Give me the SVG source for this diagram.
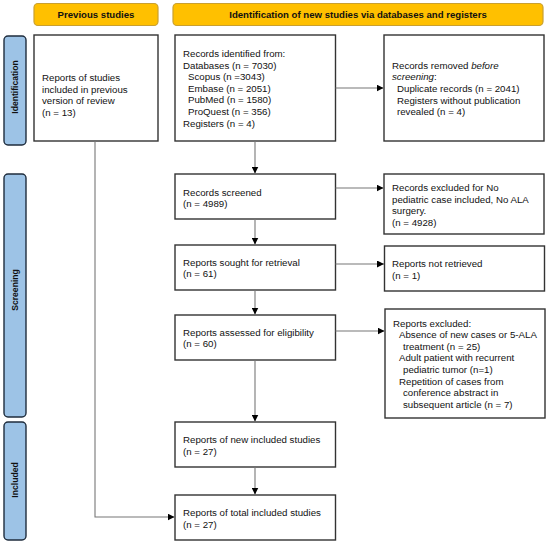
<svg xmlns="http://www.w3.org/2000/svg" width="550" height="543" viewBox="0 0 550 543">
<defs>
<marker id="ah" viewBox="0 0 10 10" refX="10" refY="5" markerWidth="7" markerHeight="7" markerUnits="userSpaceOnUse" orient="auto">
<path d="M0,0 L10,5 L0,10 z" fill="#000"/>
</marker>
<style>
.box{fill:#fff;stroke:#333;stroke-width:1.4}
.hdr{fill:#FFC000;stroke:#C9A030;stroke-width:1.2}
.side{fill:#9DC3E6;stroke:#1F2D3D;stroke-width:1.4}
.t{font-family:"Liberation Sans",Arial,sans-serif;font-size:9.7px;fill:#111}
.h{font-family:"Liberation Sans",Arial,sans-serif;font-size:9.6px;font-weight:bold;fill:#111;text-anchor:middle}
.s{font-family:"Liberation Sans",Arial,sans-serif;font-size:8.6px;font-weight:bold;fill:#111;text-anchor:middle}
.c{fill:none;stroke:#777;stroke-width:1.1}
</style>
</defs>
<g id="header-previous"><rect class="hdr" x="34" y="3.5" width="124" height="22" rx="4"/><text class="h" x="96" y="18">Previous studies</text></g>
<g id="header-new"><rect class="hdr" x="173" y="3.5" width="370" height="22" rx="4"/><text class="h" x="358" y="18">Identification of new studies via databases and registers</text></g>
<g id="side-identification"><rect class="side" x="4" y="36" width="22" height="109" rx="4"/><text class="s" transform="translate(18.3,87) rotate(-90)">Identification</text></g>
<g id="side-screening"><rect class="side" x="4" y="174" width="22" height="243" rx="4"/><text class="s" transform="translate(18.3,290) rotate(-90)">Screening</text></g>
<g id="side-included"><rect class="side" x="4" y="422" width="22" height="118" rx="4"/><text class="s" transform="translate(18.3,480) rotate(-90)">Included</text></g>

<g id="previous"><rect class="box" x="34" y="35" width="124" height="106"/>
<text class="t"><tspan x="42" y="81">Reports of studies</tspan><tspan x="42" y="93">included in previous</tspan><tspan x="42" y="104">version of review</tspan><tspan x="42" y="116">(n = 13)</tspan></text></g>

<g id="identified"><rect class="box" x="175" y="35" width="160.5" height="106"/>
<text class="t"><tspan x="183" y="57">Records identified from:</tspan><tspan x="183" y="69">Databases (n = 7030)</tspan><tspan x="188" y="80">Scopus (n =3043)</tspan><tspan x="188" y="92">Embase (n = 2051)</tspan><tspan x="188" y="103">PubMed (n = 1580)</tspan><tspan x="188" y="115">ProQuest (n = 356)</tspan><tspan x="183" y="127">Registers (n = 4)</tspan></text></g>

<g id="removed"><rect class="box" x="384" y="35" width="160" height="106"/>
<text class="t"><tspan x="392" y="69">Records removed <tspan font-style="italic">before</tspan></tspan><tspan x="392" y="80" font-style="italic">screening</tspan><tspan>:</tspan><tspan x="397" y="92">Duplicate records (n = 2041)</tspan><tspan x="397" y="104">Registers without publication</tspan><tspan x="397" y="115">revealed (n = 4)</tspan></text></g>

<g id="screened"><rect class="box" x="175" y="174" width="160.5" height="45"/>
<text class="t"><tspan x="183" y="196">Records screened</tspan><tspan x="183" y="207">(n = 4989)</tspan></text></g>

<g id="excluded-screen"><rect class="box" x="384" y="174" width="160" height="60"/>
<text class="t"><tspan x="392" y="191">Records excluded for No</tspan><tspan x="392" y="203">pediatric case included, No ALA</tspan><tspan x="392" y="214">surgery.</tspan><tspan x="392" y="226">(n = 4928)</tspan></text></g>

<g id="sought"><rect class="box" x="175" y="245" width="160.5" height="45"/>
<text class="t"><tspan x="183" y="266">Reports sought for retrieval</tspan><tspan x="183" y="277">(n = 61)</tspan></text></g>

<g id="not-retrieved"><rect class="box" x="384.5" y="246" width="160" height="45"/>
<text class="t"><tspan x="392" y="267">Reports not retrieved</tspan><tspan x="392" y="279">(n = 1)</tspan></text></g>

<g id="assessed"><rect class="box" x="175" y="315" width="160.5" height="45"/>
<text class="t"><tspan x="183" y="336">Reports assessed for eligibility</tspan><tspan x="183" y="347">(n = 60)</tspan></text></g>

<g id="excluded-reports"><rect class="box" x="385" y="309" width="160" height="109"/>
<text class="t"><tspan x="393" y="327">Reports excluded:</tspan><tspan x="399" y="338">Absence of new cases or 5-ALA</tspan><tspan x="403" y="350">treatment (n = 25)</tspan><tspan x="399" y="361">Adult patient with recurrent</tspan><tspan x="403" y="373">pediatric tumor (n=1)</tspan><tspan x="399" y="385">Repetition of cases from</tspan><tspan x="403" y="396">conference abstract in</tspan><tspan x="403" y="408">subsequent article (n = 7)</tspan></text></g>

<g id="new-included"><rect class="box" x="175" y="422" width="160.5" height="45"/>
<text class="t"><tspan x="183" y="443">Reports of new included studies</tspan><tspan x="183" y="455">(n = 27)</tspan></text></g>

<g id="total-included"><rect class="box" x="175" y="495" width="160.5" height="45"/>
<text class="t"><tspan x="183" y="516">Reports of total included studies</tspan><tspan x="183" y="528">(n = 27)</tspan></text></g>

<g id="connectors">
<line class="c" x1="255" y1="141" x2="255" y2="173.5" marker-end="url(#ah)"/>
<line class="c" x1="255" y1="219" x2="255" y2="244.5" marker-end="url(#ah)"/>
<line class="c" x1="255" y1="290" x2="255" y2="314.5" marker-end="url(#ah)"/>
<line class="c" x1="255" y1="360" x2="255" y2="421.5" marker-end="url(#ah)"/>
<line class="c" x1="255" y1="467" x2="255" y2="494.5" marker-end="url(#ah)"/>
<line class="c" x1="335.5" y1="88" x2="383.5" y2="88" marker-end="url(#ah)"/>
<line class="c" x1="335.5" y1="188" x2="383.5" y2="188" marker-end="url(#ah)"/>
<line class="c" x1="335.5" y1="264" x2="384" y2="264" marker-end="url(#ah)"/>
<line class="c" x1="335.5" y1="331" x2="384.5" y2="331" marker-end="url(#ah)"/>
<polyline class="c" points="95,141 95,517 174.5,517" marker-end="url(#ah)"/>
</g>
</svg>
